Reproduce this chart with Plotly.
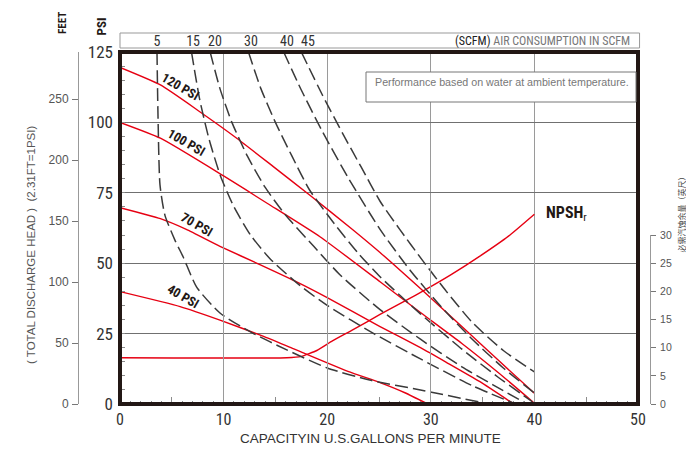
import plotly.graph_objects as go

# ---------------- axes / labels ----------------
gpm_ticks = [0, 10, 20, 30, 40, 50]
gpm_half_ticks = [5, 15, 25, 35, 45]
psi_ticks = [0, 25, 50, 75, 100, 125]
feet_ticks = [0, 50, 100, 150, 200, 250, 289]
npsh_ticks = [0, 5, 10, 15, 20, 25, 30]
scfm_labels = ["5", "15", "20", "30", "40", "45"]
scfm_label_gpm = [3.57, 7.05, 9.17, 12.64, 16.12, 18.15]

# ---------------- discharge pressure curves (PSI vs GPM) ----------------
psi120_gpm = [0, 3.9, 7.7, 11.3, 14.8, 18.3, 22.5, 25.1, 29, 33.1, 36.5, 40]
psi120_head = [119.5, 113.3, 103.8, 94.3, 84.3, 74.2, 61.8, 53.8, 41, 27.2, 15.6, 3.8]

psi100_gpm = [0, 3.9, 10, 14.2, 19.3, 25.1, 29, 33, 36.5, 40]
psi100_head = [100, 94.4, 81, 71.3, 59.4, 43.4, 32.5, 21.5, 11.2, 0.3]

psi70_gpm = [0, 3.9, 6.4, 9.65, 13.5, 17.1, 20, 25.1, 29, 31.5, 34.7, 38]
psi70_head = [69.7, 65.8, 62, 56, 49.5, 43.3, 37.8, 27.5, 20, 14.8, 8, 0]

psi40_gpm = [0, 5.8, 9.65, 13.8, 16.5, 22, 25.1, 27.5, 29.7]
psi40_head = [39.9, 34.6, 29.8, 24.1, 20, 11.6, 7.6, 4, 0]

# ---------------- air consumption curves (SCFM) ----------------
scfm5_gpm = [3.57, 3.67, 3.86, 4.34, 5.3, 6.1, 7.4, 9.65, 12.8, 16.1, 20, 24.1, 29, 34.7]
scfm5_head = [125, 102, 77.8, 67, 58.2, 52.2, 41.5, 32.3, 25.2, 19.2, 12.8, 8.5, 5, 0.7]

scfm15_gpm = [6.9, 7.7, 8.6, 9.7, 11, 12.6, 14.5, 17.4, 20, 24.5, 29, 34, 38.2]
scfm15_head = [125, 108, 94, 81, 70, 60, 51.5, 42, 35, 25, 16, 6.5, 0]

scfm20_gpm = [8.7, 9.65, 10.8, 12.3, 14, 16, 18.7, 21.2, 25.1, 29, 33, 36, 39.3]
scfm20_head = [125, 112, 100, 88, 77, 67, 56, 46, 33.5, 23, 13.2, 6.8, 0]

scfm30_gpm = [12.4, 13.6, 15, 16.6, 18.3, 20.9, 23, 25.1, 29, 33, 36.5, 39.8]
scfm30_head = [125, 112, 100, 88, 76, 63, 53.5, 45.2, 32, 19.5, 9.5, 0.8]

scfm40_gpm = [15.8, 17.5, 19.5, 22, 25.1, 28, 31, 34, 37, 40]
scfm40_head = [125, 111.5, 97, 80.5, 62, 47.5, 34.5, 23, 12.8, 3.9]

scfm45_gpm = [17.5, 19.5, 21.5, 23.3, 25.1, 27, 29.2, 31.5, 34, 37, 40]
scfm45_head = [125, 110, 96, 84, 72, 62, 51, 40, 29, 19, 11.4]

# ---------------- NPSH required (feet) ----------------
npsh_gpm = [0, 16.1, 17.5, 19, 20.5, 22.5, 25.1, 27.7, 29.4, 32, 34.7, 37.5, 40]
npsh_ft = [8.2, 8.2, 8.45, 9.5, 11.2, 13.2, 15.9, 18.5, 20.2, 23, 26.2, 29.8, 33.7]

# curve label text + anchor point (GPM, PSI)
psi_curve_labels = ["120 PSI", "100 PSI", "70 PSI", "40 PSI"]
psi_label_gpm = [5.8, 6.4, 7.4, 6.1]
psi_label_head = [112.7, 92.8, 63.9, 38.1]

RED = "#e60012"
DASH = "#3a3a3a"
INK = "#231815"
XGRID = "#9a9a9a"
YGRID = "#707070"
TICK = "#8c8c8c"
NARROW = "Liberation Sans Narrow, Arial Narrow, Roboto Condensed, Liberation Sans, sans-serif"
SANS = "Liberation Sans, Arial, sans-serif"

# page geometry helpers (pixels -> paper fractions)
W, H = 686, 449
ML, MR, MT, MB = 10, 10, 52, 45
PW, PH = W - ML - MR, H - MT - MB


def px(x):
    return (x - ML) / PW


def py(y):
    return (H - MB - y) / PH


fig = go.Figure()

# air consumption curves on the SCFM axis
for gx, gy in [(scfm5_gpm, scfm5_head), (scfm15_gpm, scfm15_head),
               (scfm20_gpm, scfm20_head), (scfm30_gpm, scfm30_head),
               (scfm40_gpm, scfm40_head), (scfm45_gpm, scfm45_head)]:
    fig.add_trace(go.Scatter(x=gx, y=gy, mode="lines", xaxis="x2", yaxis="y",
                             line=dict(color=DASH, width=1.5, dash="13px,5px",
                                       shape="spline", smoothing=0.6),
                             hoverinfo="skip", showlegend=False))

# discharge pressure curves
for gx, gy in [(psi120_gpm, psi120_head), (psi100_gpm, psi100_head),
               (psi70_gpm, psi70_head), (psi40_gpm, psi40_head)]:
    fig.add_trace(go.Scatter(x=gx, y=gy, mode="lines",
                             line=dict(color=RED, width=1.4, shape="spline", smoothing=0.5),
                             hoverinfo="skip", showlegend=False))

# NPSHr curve on its own feet scale
fig.add_trace(go.Scatter(x=npsh_gpm, y=npsh_ft, mode="lines", yaxis="y4",
                         line=dict(color=RED, width=1.4, shape="spline", smoothing=0.4),
                         hoverinfo="skip", showlegend=False))

# empty traces so the auxiliary axes are laid out
fig.add_trace(go.Scatter(x=[], y=[], yaxis="y2", showlegend=False, hoverinfo="skip"))
fig.add_trace(go.Scatter(x=[], y=[], yaxis="y3", showlegend=False, hoverinfo="skip"))
fig.add_trace(go.Scatter(x=[], y=[], xaxis="x3", showlegend=False, hoverinfo="skip"))

x_dom = [px(120), px(638)]

fig.update_layout(
    width=W, height=H,
    margin=dict(l=ML, r=MR, t=MT, b=MB, pad=0, autoexpand=False),
    paper_bgcolor="white", plot_bgcolor="rgba(0,0,0,0)",
    showlegend=False,
    xaxis=dict(domain=x_dom, range=[0, 50], tickvals=gpm_ticks,
               ticks="inside", ticklen=3, tickcolor=TICK, tickwidth=1,
               showgrid=True, gridcolor=XGRID, gridwidth=1,
               zeroline=False, showline=False,
               minor=dict(dtick=1, ticks="inside", ticklen=3, tickcolor=TICK, showgrid=False),
               tickfont=dict(family=NARROW, size=16, color="#333"),
               ticklabelstandoff=4, anchor="y"),
    xaxis2=dict(overlaying="x", side="top", range=[0, 50], anchor="y",
                tickvals=scfm_label_gpm, ticktext=scfm_labels,
                ticks="", showgrid=False, showline=False, zeroline=False,
                tickfont=dict(family=NARROW, size=14, color="#333"),
                ticklabelstandoff=2),
    xaxis3=dict(overlaying="x", range=[0, 50], anchor="y", side="bottom",
                tickvals=gpm_half_ticks, ticks="inside", ticklen=7,
                tickcolor=TICK, showticklabels=False, showgrid=False,
                showline=False, zeroline=False),
    yaxis=dict(domain=[0, 1], range=[0, 125], tickvals=psi_ticks,
               ticks="inside", ticklen=5, tickcolor=TICK,
               minor=dict(dtick=5, ticks="inside", ticklen=5, tickcolor=TICK, showgrid=False),
               showgrid=True, gridcolor=YGRID, gridwidth=1,
               zeroline=False, showline=False,
               tickfont=dict(family=NARROW, size=17, color="#333"),
               ticklabelstandoff=6, anchor="x"),
    yaxis2=dict(overlaying="y", anchor="free", position=px(78), side="left",
                range=[0, 125 * 2.31], tickvals=feet_ticks,
                ticks="outside", ticklen=6, tickcolor="#777",
                showline=True, linecolor="#999", linewidth=1,
                showgrid=False, zeroline=False,
                tickfont=dict(family=SANS, size=12, color="#555"),
                ticklabelstandoff=1),
    yaxis3=dict(anchor="free", position=px(650), side="right",
                domain=[0, 30 / 62.5], range=[0, 30], tickvals=npsh_ticks,
                ticks="outside", ticklen=5, tickcolor="#777",
                showline=True, linecolor="#999", linewidth=1,
                showgrid=False, zeroline=False,
                tickfont=dict(family=SANS, size=10.5, color="#555"),
                ticklabelstandoff=2),
    yaxis4=dict(overlaying="y", range=[0, 62.5], visible=False),
)

shapes = [
    # heavy chart frame
    dict(type="rect", xref="x domain", yref="y domain", x0=0, x1=1, y0=0, y1=1,
         line=dict(color=INK, width=4), layer="above"),
    # SCFM scale box
    dict(type="rect", xref="x domain", yref="y domain", x0=0, x1=1.003,
         y0=(52 - 48) / PH + 1, y1=(52 - 33) / PH + 1,
         line=dict(color="#999", width=1), layer="above"),
    # note box
    dict(type="rect", xref="x domain", yref="y domain",
         x0=(366 - 120) / 518, x1=(636 - 120) / 518,
         y0=(404 - 102) / PH, y1=(404 - 72) / PH,
         line=dict(color="#777", width=1), fillcolor="white", layer="above"),
]
fig.update_layout(shapes=shapes)

ann = []
for txt, gx, gy in zip(psi_curve_labels, psi_label_gpm, psi_label_head):
    ann.append(dict(x=gx, y=gy, xref="x", yref="y", text="<b>" + txt + "</b>",
                    showarrow=False, textangle=30, xanchor="center", yanchor="middle",
                    font=dict(family=NARROW, size=13, color=INK)))
ann += [
    dict(x=40.9, y=67.8, xref="x", yref="y", xanchor="left", yanchor="middle",
         text="<b>NPSH</b><sub>r</sub>", showarrow=False,
         font=dict(family=NARROW, size=16, color=INK)),
    dict(x=px(62.5), y=py(23.5), xref="paper", yref="paper", text="<b>FEET</b>",
         xanchor="center", yanchor="middle",
         textangle=-90, showarrow=False, font=dict(family=NARROW, size=11, color=INK)),
    dict(x=px(101), y=py(26.5), xref="paper", yref="paper", text="<b>PSI</b>",
         xanchor="center", yanchor="middle",
         textangle=-90, showarrow=False, font=dict(family=NARROW, size=13, color=INK)),
    dict(x=px(31), y=py(245), xref="paper", yref="paper",
         text="( TOTAL DISCHARGE HEAD )  (2.31FT=1PSI)",
         xanchor="center", yanchor="middle",
         textangle=-90, showarrow=False, font=dict(family=SANS, size=11.5, color="#555")),
    dict(x=px(370), y=py(438), xref="paper", yref="paper",
         xanchor="center", yanchor="middle",
         text="CAPACITYIN U.S.GALLONS PER MINUTE",
         showarrow=False, font=dict(family=SANS, size=13.5, color="#333")),
    dict(x=px(632), y=py(41), xref="paper", yref="paper", xanchor="right", yanchor="middle",
         text="<span style='color:#222'>(SCFM)</span> AIR CONSUMPTION IN SCFM",
         showarrow=False, font=dict(family=NARROW, size=12, color="#777")),
    dict(x=px(373), y=py(82), xref="paper", yref="paper", xanchor="left", yanchor="middle",
         text="Performance based on water at ambient temperature.",
         showarrow=False, font=dict(family=SANS, size=10.7, color="#777")),
    dict(x=px(680.5), y=py(213), xref="paper", yref="paper",
         xanchor="center", yanchor="middle",
         text="必需汽蚀余量（英尺）", textangle=-90, showarrow=False,
         font=dict(family="Noto Sans CJK SC", size=8, color="#444")),
]
fig.update_layout(annotations=ann)

fig.write_html("out.html")
